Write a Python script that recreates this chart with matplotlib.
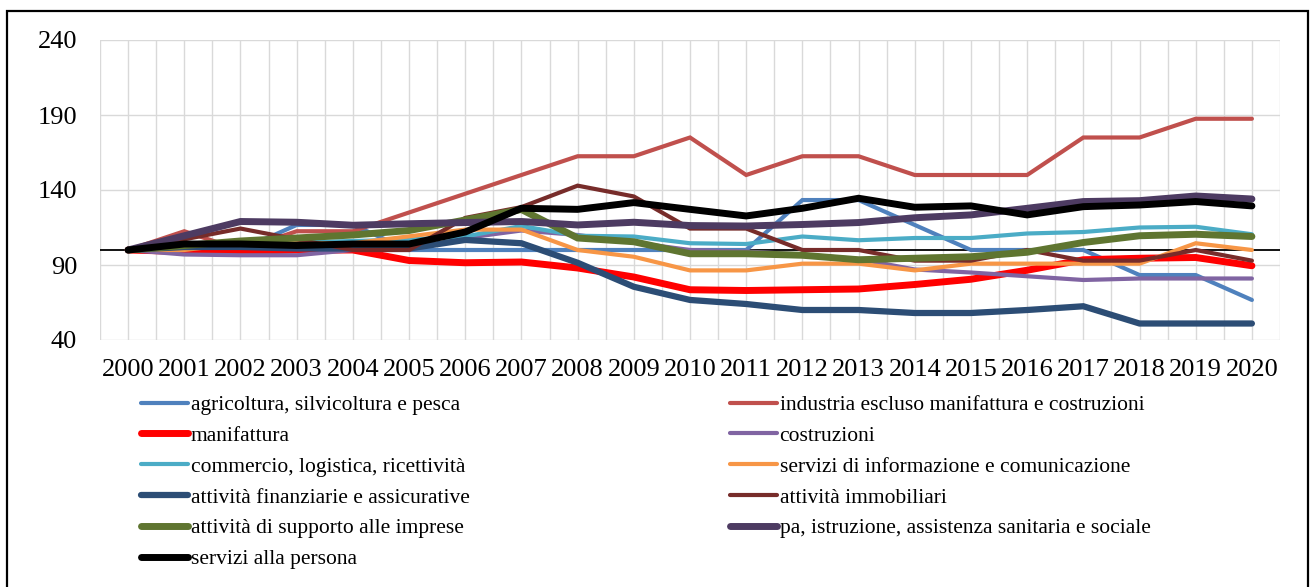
import numpy as np
import matplotlib
matplotlib.use('Agg')
import matplotlib.pyplot as plt
from matplotlib.patches import Rectangle

plt.rcParams['font.family'] = ['Liberation Serif', 'DejaVu Serif']

# data (index 2000 = 100)
years = [str(y) for y in range(2000, 2021)]

agricoltura = [100, 100, 100, 116.7, 116.7, 100, 100, 100, 100, 100, 100, 100, 133.3, 133.3, 116.7, 100, 100, 100, 83.3, 83.3, 66.7]
industria = [100, 112.5, 100, 112.5, 112.5, 125, 137.5, 150, 162.5, 162.5, 175, 150, 162.5, 162.5, 150, 150, 150, 175, 175, 187.5, 187.5]
manifattura = [100, 99, 99, 100, 100, 93, 91.5, 92, 88, 82, 73.5, 73, 73.5, 74, 77, 80.5, 86.5, 93.5, 94.5, 95, 89.5]
costruzioni = [100, 97, 96.5, 96.5, 100, 100, 108, 113, 110, 105, 100, 99, 97, 94, 87, 85, 82.5, 80, 81, 81, 81]
commercio = [100, 102, 103, 105, 106, 107, 109, 116, 109.5, 109, 104.5, 104, 109, 106.5, 108, 108, 111, 112, 115, 115.5, 110.5]
informazione = [100, 100, 104.5, 104.5, 104.5, 109.1, 113.6, 113.6, 100, 95.5, 86.4, 86.4, 90.9, 90.9, 86.4, 90.9, 90.9, 90.9, 90.9, 104.5, 100]
finanziarie = [100, 102, 102, 101, 101, 101, 106.7, 104.5, 91.5, 75.5, 66.7, 64, 60, 60, 58, 58, 60, 62.5, 51, 51, 51]
immobiliari = [100, 107.1, 114.3, 107.1, 100, 100, 121.4, 128.6, 142.9, 135.7, 114.3, 114.3, 100, 100, 92.9, 92.9, 100, 92.9, 92.9, 100, 92.9]
supporto = [100, 103, 106, 108, 110, 113, 120, 127, 108, 105.5, 97.5, 97.5, 96.5, 93.5, 94.5, 95.5, 98.5, 105, 109.5, 110.5, 109]
pa = [100, 109.5, 119, 118.5, 116.5, 117.5, 118.3, 119, 116.7, 118.5, 116.3, 116, 117, 118.3, 121.5, 123.4, 127.8, 132.3, 132.9, 136, 134]
persona = [100, 104, 104, 103, 104, 104, 112, 127.8, 127.1, 131.6, 127.1, 122.7, 127.8, 134.5, 128.5, 129.4, 123.4, 128.9, 130, 132.3, 129.4]

series = [
    ('agricoltura, silvicoltura e pesca', agricoltura, '#4F81BD', 3.0),
    ('industria escluso manifattura e costruzioni', industria, '#C0504D', 3.0),
    ('manifattura', manifattura, '#FF0000', 5.0),
    ('costruzioni', costruzioni, '#8064A2', 3.0),
    ('commercio, logistica, ricettività', commercio, '#4BACC6', 3.0),
    ('servizi di informazione e comunicazione', informazione, '#F79646', 3.0),
    ('attività finanziarie e assicurative', finanziarie, '#2C4D75', 4.5),
    ('attività immobiliari', immobiliari, '#772C2A', 3.0),
    ('attività di supporto alle imprese', supporto, '#5F7530', 5.0),
    ('pa, istruzione, assistenza sanitaria e sociale', pa, '#4D3B62', 5.0),
    ('servizi alla persona', persona, '#000000', 5.0),
]

fig = plt.figure(figsize=(13.12, 5.87), dpi=100)
ax = fig.add_axes([100/1312, 1-340/587, 1180/1312, 300/587])

x = np.arange(len(years))
ax.axhline(100, color='black', lw=1.3, zorder=1.5)
handles = []
for name, vals, col, lw in series:
    h, = ax.plot(x, vals, color=col, lw=lw, label=name, solid_capstyle='round',
                 solid_joinstyle='miter', zorder=2)
    handles.append(h)

ax.set_xlim(-0.5, len(years) - 0.5)
ax.set_ylim(40, 240)
ax.set_yticks([40, 90, 140, 190, 240])
ax.set_xticks(x)
ax.set_xticklabels(years)
ax.set_xticks(np.arange(-0.5, len(years), 1), minor=True)
ax.tick_params(axis='both', which='both', length=0, labelsize=19)
ax.tick_params(axis='y', pad=16.5)
ax.tick_params(axis='x', pad=14)
ax.grid(axis='x', which='both', color='#D9D9D9', lw=1)
ax.grid(axis='y', which='major', color='#D9D9D9', lw=1)
ax.set_axisbelow(True)
for s in ax.spines.values():
    s.set_visible(False)

# legend: Excel fills row by row, two columns
left = handles[0::2]
right = handles[1::2]
lg_kw = dict(frameon=False, fontsize=15.5, handlelength=2.2, handletextpad=0.1,
             labelspacing=0.5, borderpad=0, borderaxespad=0, loc='upper left')
leg1 = fig.legend(handles=left, labels=[h.get_label() for h in left],
                  bbox_to_anchor=(141/1312, 1-395/587), **lg_kw)
leg2 = fig.legend(handles=right, labels=[h.get_label() for h in right],
                  bbox_to_anchor=(730/1312, 1-395/587), **lg_kw)

# outer frame
fig.add_artist(Rectangle((7/1312, -0.05), 1301/1312, 1.05 - 11/587, transform=fig.transFigure,
                         fill=False, edgecolor='black', lw=1.6))

fig.savefig('out.png', dpi=100)
